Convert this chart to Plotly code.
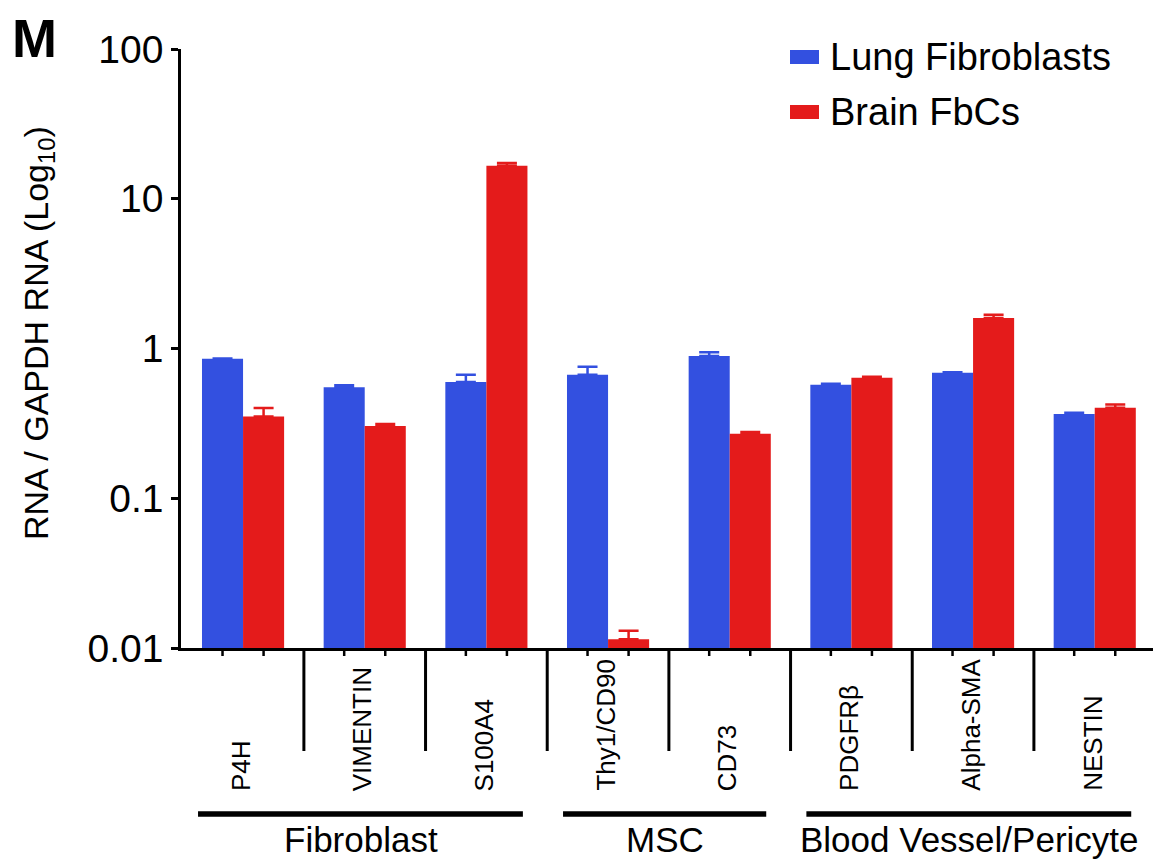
import plotly.graph_objects as go

categories = ["P4H", "VIMENTIN", "S100A4", "Thy1/CD90", "CD73", "PDGFRβ", "Alpha-SMA", "NESTIN"]
lung_values = [0.853, 0.551, 0.598, 0.669, 0.891, 0.573, 0.689, 0.365]
lung_errors = [0.006, 0.017, 0.070, 0.087, 0.052, 0.009, 0.004, 0.008]
brain_values = [0.351, 0.304, 16.6, 0.01143, 0.270, 0.638, 1.60, 0.402]
brain_errors = [0.050, 0.009, 0.70, 0.0016, 0.007, 0.010, 0.08, 0.020]
series_names = ["Lung Fibroblasts", "Brain FbCs"]
groups = [("Fibroblast", 0, 2), ("MSC", 3, 4), ("Blood Vessel/Pericyte", 5, 7)]
y_tickvals = [0.01, 0.1, 1, 10, 100]
y_ticktext = ["0.01", "0.1", "1", "10", "100"]

BLUE = "#3350E0"
RED = "#E41B1B"
FONT = "Liberation Sans, Arial, sans-serif"
# page has an 8px body margin, so the figure is sized 8px smaller
W, H = 1153, 858
ML, MR, MT, MB = 173, 3, 41, 218
BARGAP = 0.325

PLOT_TOP, PLOT_BOTTOM = 49, 648      # page pixels
PLOT_LEFT, PLOT_RIGHT = 181, 1158

fig = go.Figure()
for name, vals, errs, col in [(series_names[0], lung_values, lung_errors, BLUE),
                              (series_names[1], brain_values, brain_errors, RED)]:
    fig.add_trace(go.Bar(
        x=categories, y=vals, name=name, marker=dict(color=col, line=dict(width=0)),
        error_y=dict(type="data", array=errs, arrayminus=[0] * len(errs), symmetric=False,
                     visible=True, color=col, thickness=2.5, width=10),
        showlegend=False,
    ))

shapes = []
annotations = []
half = (1 - BARGAP) / 4.0

def py(pix):  # page pixel y -> paper y
    return (PLOT_BOTTOM - pix) / (PLOT_BOTTOM - PLOT_TOP)

def px(pix):
    return (pix - PLOT_LEFT) / (PLOT_RIGHT - PLOT_LEFT)

# small ticks under each bar
for i in range(len(categories)):
    for off in (-half, half):
        shapes.append(dict(type="line", xref="x", yref="paper", x0=i + off, x1=i + off,
                           y0=0, y1=py(656), line=dict(color="black", width=2.5)))
# separators between categories
for i in range(len(categories) - 1):
    shapes.append(dict(type="line", xref="x", yref="paper", x0=i + 0.5, x1=i + 0.5,
                       y0=0, y1=py(751), line=dict(color="black", width=3)))
# category labels
for i, c in enumerate(categories):
    annotations.append(dict(text=c, xref="x", yref="paper", x=i - 0.02, y=py(793),
                            xanchor="center", yanchor="bottom", textangle=-90, showarrow=False,
                            font=dict(family=FONT, size=26, color="black")))
# group bars and labels
for label, a, b in groups:
    shapes.append(dict(type="line", xref="x", yref="paper", x0=a - 0.37, x1=b + 0.30,
                       y0=py(814), y1=py(814), line=dict(color="black", width=5.5)))
    annotations.append(dict(text=label, xref="x", yref="paper", x=(a + b) / 2 - 0.03, y=py(839),
                            xanchor="center", yanchor="middle", showarrow=False,
                            font=dict(family=FONT, size=35, color="black")))
# legend
for k, (name, col) in enumerate(zip(series_names, [BLUE, RED])):
    yc = [57, 112][k]
    shapes.append(dict(type="rect", xref="paper", yref="paper", x0=px(790), x1=px(819),
                       y0=py(yc + 7), y1=py(yc - 7), fillcolor=col, line=dict(width=0)))
    annotations.append(dict(text=name, xref="paper", yref="paper", x=px(828), y=py(yc),
                            xanchor="left", yanchor="middle", showarrow=False,
                            font=dict(family=FONT, size=38, color="black")))
# y title
annotations.append(dict(text="RNA / GAPDH RNA (Log<sub>10</sub>)", xref="paper", yref="paper",
                        x=px(38), y=py(333), xanchor="center", yanchor="middle", textangle=-90,
                        showarrow=False, font=dict(family=FONT, size=34, color="black")))
# panel letter
annotations.append(dict(text="<b>M</b>", xref="paper", yref="paper", x=px(10), y=py(38),
                        xanchor="left", yanchor="middle", showarrow=False,
                        font=dict(family=FONT, size=54, color="black")))

fig.update_layout(
    width=W, height=H, margin=dict(l=ML, r=MR, t=MT, b=MB),
    paper_bgcolor="white", plot_bgcolor="white",
    barmode="group", bargap=BARGAP, bargroupgap=0,
    shapes=shapes, annotations=annotations, showlegend=False,
    xaxis=dict(type="category", range=[-0.51, 7.52], showticklabels=False, ticks="",
               showline=True, linecolor="black", linewidth=2.5, showgrid=False, zeroline=False),
    yaxis=dict(type="log", range=[-2, 2], tickvals=y_tickvals, ticktext=y_ticktext,
               ticks="outside", ticklen=7, tickwidth=2.5, tickcolor="black",
               showline=True, linecolor="black", linewidth=2.5, showgrid=False, zeroline=False,
               tickfont=dict(family=FONT, size=39, color="black")),
)
fig.write_html("out.html")
